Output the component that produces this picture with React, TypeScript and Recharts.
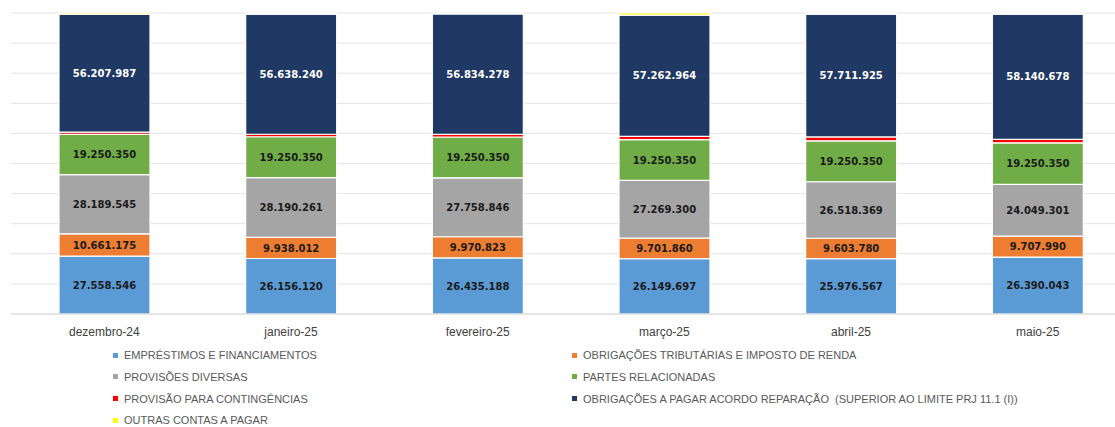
import React from 'react';
import { BarChart, Bar, XAxis, YAxis, CartesianGrid, LabelList } from 'recharts';

const MONTHS = ['dezembro-24', 'janeiro-25', 'fevereiro-25', 'março-25', 'abril-25', 'maio-25'];

const EMPRESTIMOS = [27558546, 26156120, 26435188, 26149697, 25976567, 26390043];
const OBRIG_TRIBUTARIAS = [10661175, 9938012, 9970823, 9701860, 9603780, 9707990];
const PROVISOES_DIVERSAS = [28189545, 28190261, 27758846, 27269300, 26518369, 24049301];
const PARTES_RELACIONADAS = [19250350, 19250350, 19250350, 19250350, 19250350, 19250350];
// small series, no labels in the original -> estimated from segment thickness
const PROVISAO_CONTINGENCIAS = [1000000, 1200000, 1200000, 1600000, 1800000, 1600000];
const ACORDO_REPARACAO = [56207987, 56638240, 56834278, 57262964, 57711925, 58140678];
const OUTRAS_CONTAS = [600000, 500000, 400000, 1000000, 500000, 500000];

const Y_TICKS = [0, 0.1, 0.2, 0.3, 0.4, 0.5, 0.6, 0.7, 0.8, 0.9, 1];

const SERIES = [
    { key: 'emprestimos', name: 'EMPRÉSTIMOS E FINANCIAMENTOS', values: EMPRESTIMOS, color: '#5B9BD5', label: '#1a1a1a' },
    { key: 'tributarias', name: 'OBRIGAÇÕES TRIBUTÁRIAS E IMPOSTO DE RENDA', values: OBRIG_TRIBUTARIAS, color: '#ED7D31', label: '#1a1a1a' },
    { key: 'provisoes', name: 'PROVISÕES DIVERSAS', values: PROVISOES_DIVERSAS, color: '#A5A5A5', label: '#1a1a1a' },
    { key: 'partes', name: 'PARTES RELACIONADAS', values: PARTES_RELACIONADAS, color: '#70AD47', label: '#1a1a1a' },
    { key: 'contingencias', name: 'PROVISÃO PARA CONTINGÊNCIAS', values: PROVISAO_CONTINGENCIAS, color: '#FF0000', label: null },
    { key: 'acordo', name: 'OBRIGAÇÕES A PAGAR ACORDO REPARAÇÃO  (SUPERIOR AO LIMITE PRJ 11.1 (I))', values: ACORDO_REPARACAO, color: '#203864', label: '#ffffff' },
    { key: 'outras', name: 'OUTRAS CONTAS A PAGAR', values: OUTRAS_CONTAS, color: '#FFFF00', label: null },
];

// legend order as in the original (two columns, row by row)
const LEGEND_ORDER = ['emprestimos', 'tributarias', 'provisoes', 'partes', 'contingencias', 'acordo', 'outras'];

const data = MONTHS.map((month, i) => {
    const row: Record<string, string | number> = { month };
    SERIES.forEach(s => { row[s.key] = s.values[i]; });
    return row;
});

const formatBR = (v: number) => String(Math.round(v)).replace(/\B(?=(\d{3})+(?!\d))/g, '.');

export default function App() {
    return (
        <>
            <style>{'html,body{margin:0;padding:0;overflow:hidden;}'}</style>
            <div style={{ width: 1115, height: 427, overflow: 'hidden', position: 'relative', background: '#fff' }}>
                <BarChart
                    width={1131}
                    height={345}
                    data={data}
                    stackOffset="expand"
                    margin={{ top: 13, right: 0, bottom: 0, left: 11 }}
                >
                    <CartesianGrid vertical={false} stroke="#e3e3e3" />
                    <YAxis hide domain={[0, 1]} ticks={Y_TICKS} />
                    <XAxis
                        dataKey="month"
                        height={31}
                        tickLine={false}
                        axisLine={{ stroke: '#d9d9d9' }}
                        tickMargin={7}
                        tick={{ fill: '#404040', fontSize: 12, fontFamily: 'Liberation Sans, Arial, sans-serif' }}
                    />
                    {SERIES.map(s => (
                        <Bar
                            key={s.key}
                            dataKey={s.key}
                            name={s.name}
                            stackId="a"
                            fill={s.color}
                            stroke="#ffffff"
                            strokeWidth={1.2}
                            barSize={91}
                            isAnimationActive={false}
                        >
                            {s.label && (
                                <LabelList
                                    dataKey={s.key}
                                    position="center"
                                    formatter={(v: any) => formatBR(Number(v))}
                                    fill={s.label}
                                    fontSize={10}
                                    fontWeight="bold"
                                    fontFamily="DejaVu Sans, sans-serif"
                                />
                            )}
                        </Bar>
                    ))}
                </BarChart>

                {/* legend, two columns like the Excel original */}
                {LEGEND_ORDER.map((key, i) => {
                    const s = SERIES.find(x => x.key === key)!;
                    const col = i % 2;
                    const row = Math.floor(i / 2);
                    const left = col === 0 ? 113 : 572;
                    const cy = 355 + row * 21.8;
                    return (
                        <div
                            key={key}
                            style={{
                                position: 'absolute',
                                left,
                                top: cy - 7,
                                height: 14,
                                lineHeight: '14px',
                                display: 'flex',
                                alignItems: 'center',
                                whiteSpace: 'pre',
                                fontFamily: 'Liberation Sans, Arial, sans-serif',
                                fontSize: 11,
                                color: '#595959',
                            }}
                        >
                            <span style={{ display: 'inline-block', width: 5, height: 5, background: s.color, marginRight: 6 }} />
                            <span>{s.name}</span>
                        </div>
                    );
                })}
            </div>
        </>
    );
}
